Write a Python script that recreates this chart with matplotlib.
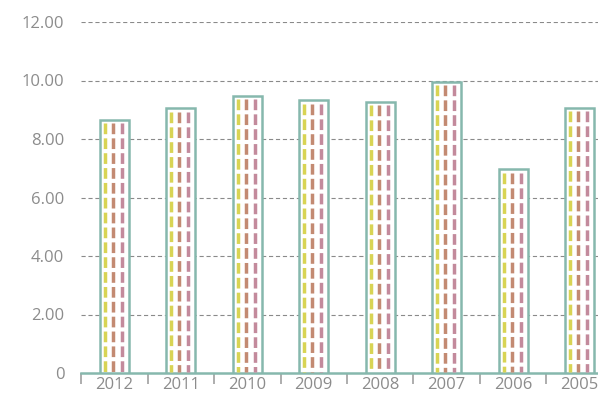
import matplotlib
matplotlib.use("Agg")
import matplotlib.pyplot as plt
import numpy as np

plt.rcParams['font.family'] = ['Open Sans', 'DejaVu Sans']
plt.rcParams['lines.scale_dashes'] = False

years = ['2012', '2011', '2010', '2009', '2008', '2007', '2006', '2005']
values = [8.65, 9.05, 9.48, 9.33, 9.27, 9.95, 6.97, 9.07]
yticks = [0, 2, 4, 6, 8, 10, 12]
ytick_labels = ['0', '2.00', '4.00', '6.00', '8.00', '10.00', '12.00']

fig = plt.figure(figsize=(5.98, 4.01), dpi=100)
ax = fig.add_axes([81/598, 1 - 373/401, 532/598, (373 - 22)/401])

x = np.arange(len(years))
bw = 0.44
ax.set_ylim(0, 12)
ax.set_xlim(-0.5, len(years) - 0.5)

for yv in yticks[1:]:
    ax.axhline(yv, color='#8a8a8a', lw=0.8, ls=(0, (3, 2)), zorder=1)

ax.bar(x, values, width=bw, facecolor='white', edgecolor='#86b8ad', linewidth=1.8, zorder=3)

colors = ['#d8d454', '#c38a72', '#c38a9c']
offs = [-0.145, -0.025, 0.115]
for xi, v in zip(x, values):
    for c, o in zip(colors, offs):
        ax.plot([xi + o, xi + o], [v - 0.12, 0.05], color=c, lw=2.5,
                ls=(0, (7.7, 3.0)), solid_capstyle='butt', dash_capstyle='butt', zorder=4)

for s in ['top', 'right', 'left']:
    ax.spines[s].set_visible(False)
ax.spines['bottom'].set_color('#86b8ad')
ax.spines['bottom'].set_linewidth(1.8)

ax.set_yticks(yticks)
ax.set_yticklabels(ytick_labels)
ax.tick_params(axis='y', length=0, pad=12, labelsize=12, labelcolor='#8c8c8c')

ax.set_xticks(x)
ax.set_xticklabels(years)
ax.tick_params(axis='x', which='major', length=0, pad=3, labelsize=12, labelcolor='#8c8c8c')
ax.set_xticks(np.arange(len(years) + 1) - 0.5, minor=True)
ax.tick_params(axis='x', which='minor', length=8, width=1.2, color='#a0a0a0', direction='out')

fig.savefig('out.png', dpi=100)
